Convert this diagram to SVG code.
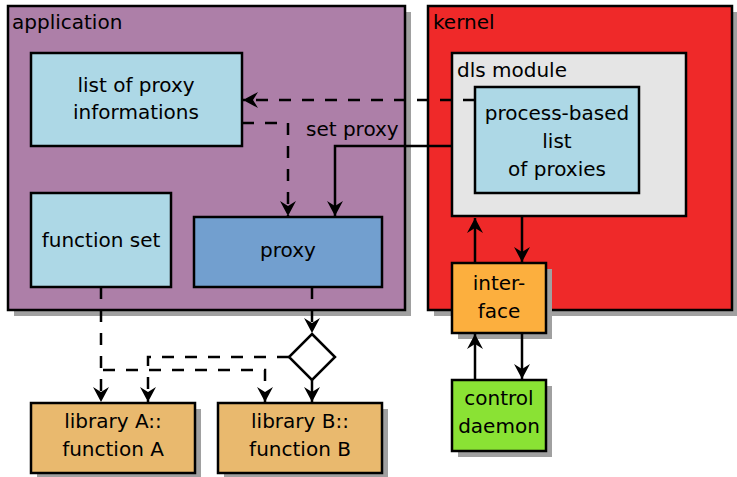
<svg xmlns="http://www.w3.org/2000/svg" width="737" height="477" viewBox="0 0 737 477">
<defs>
<marker id="arr" markerUnits="userSpaceOnUse" markerWidth="20" markerHeight="20" refX="0" refY="0" viewBox="-17 -10 20 20" orient="auto">
<path d="M0,0 L-15,-8 L-10,0 L-15,8 Z" fill="#000" stroke="none"/>
</marker>
</defs>
<style>
.box{stroke:#000;stroke-width:2.5}
.sh{fill:#a0a0a0}
.t{font-family:"DejaVu Sans",sans-serif;font-size:20px;fill:#000}
.c{text-anchor:middle}
.ln{fill:none;stroke:#000;stroke-width:2.5}
.d{stroke-dasharray:12,11}
</style>
<rect width="737" height="477" fill="#fff"/>
<g id="application">
<rect class="sh" x="14" y="12" width="397" height="304"/>
<rect class="box" x="8" y="6" width="397" height="304" fill="#ad7fa8"/>
<text class="t" x="12" y="29">application</text>
</g>
<g id="kernel">
<rect class="sh" x="434" y="12" width="304" height="304"/>
<rect class="box" x="428" y="6" width="304" height="304" fill="#ef2929"/>
<text class="t" x="433" y="29">kernel</text>
</g>
<g id="dls-module">
<rect class="box" x="452" y="53" width="234" height="163" fill="#e5e5e5"/>
<text class="t" x="457" y="77">dls module</text>
</g>
<g id="process-list">
<rect class="box" x="475" y="87" width="164" height="106" fill="#add8e6"/>
<text class="t c" x="557" y="120">process-based</text>
<text class="t c" x="557" y="148">list</text>
<text class="t c" x="557" y="176">of proxies</text>
</g>
<g id="proxy-info">
<rect class="box" x="31" y="53" width="211" height="93" fill="#add8e6"/>
<text class="t c" x="136" y="92">list of proxy</text>
<text class="t c" x="136" y="119">informations</text>
</g>
<g id="function-set">
<rect class="box" x="31" y="193" width="140" height="94" fill="#add8e6"/>
<text class="t c" x="101" y="247">function set</text>
</g>
<g id="proxy">
<rect class="box" x="194" y="217" width="188" height="70" fill="#729fcf"/>
<text class="t c" x="288" y="257">proxy</text>
</g>
<g id="interface">
<rect class="sh" x="458" y="269" width="94" height="70"/>
<rect class="box" x="452" y="263" width="94" height="70" fill="#fcaf3e"/>
<text class="t c" x="499" y="290">inter-</text>
<text class="t c" x="499" y="318">face</text>
</g>
<g id="control-daemon">
<rect class="sh" x="458" y="386" width="94" height="71"/>
<rect class="box" x="452" y="380" width="94" height="71" fill="#8ae234"/>
<text class="t c" x="499" y="405">control</text>
<text class="t c" x="499" y="433">daemon</text>
</g>
<g id="library-a">
<rect class="sh" x="37" y="409" width="164" height="70"/>
<rect class="box" x="31" y="403" width="164" height="70" fill="#e9b96e"/>
<text class="t c" x="113" y="428">library A::</text>
<text class="t c" x="113" y="456">function A</text>
</g>
<g id="library-b">
<rect class="sh" x="224" y="409" width="164" height="70"/>
<rect class="box" x="218" y="403" width="164" height="70" fill="#e9b96e"/>
<text class="t c" x="300" y="428">library B::</text>
<text class="t c" x="300" y="456">function B</text>
</g>
<g id="decision">
<path class="box" d="M312,334 L335,357 L312,380 L289,357 Z" fill="#fff"/>
</g>
<g id="connectors">
<path class="ln d" d="M475,100 H243" marker-end="url(#arr)"/>
<path class="ln d" d="M242,123 H288 V216" marker-end="url(#arr)"/>
<path class="ln" d="M452,146 H335 V216" marker-end="url(#arr)"/>
<text class="t" x="306" y="136">set proxy</text>
<path class="ln d" d="M101,287 V402" marker-end="url(#arr)"/>
<path class="ln d" d="M103,370 H265 V402" marker-end="url(#arr)"/>
<path class="ln d" d="M289,357 H148 V402" marker-end="url(#arr)"/>
<path class="ln d" d="M312,287 V333" marker-end="url(#arr)"/>
<path class="ln" d="M312,380 V402" marker-end="url(#arr)"/>
<path class="ln" d="M475,263 V218" marker-end="url(#arr)"/>
<path class="ln" d="M522,217 V262" marker-end="url(#arr)"/>
<path class="ln" d="M475,380 V334" marker-end="url(#arr)"/>
<path class="ln" d="M522,333 V379" marker-end="url(#arr)"/>
</g>
</svg>
